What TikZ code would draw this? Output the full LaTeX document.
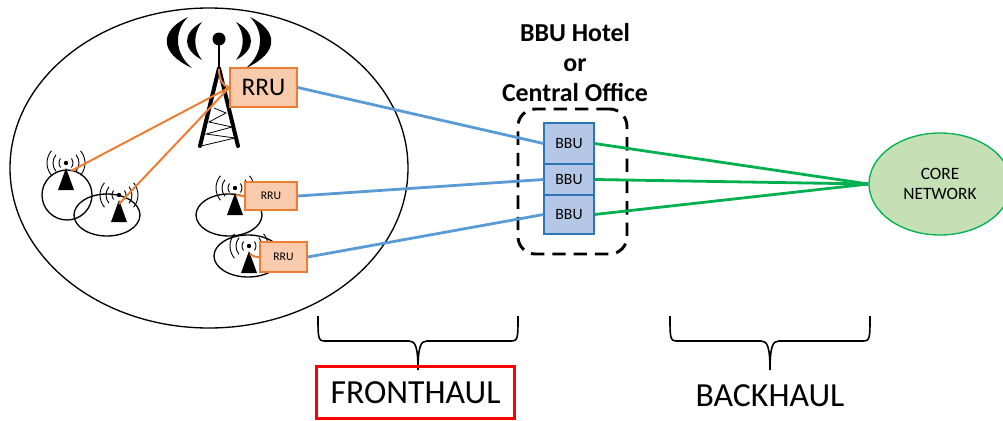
\documentclass[tikz,border=0pt]{standalone}
\usepackage{fontspec}
\setmainfont{Carlito}
\usetikzlibrary{shapes.geometric}
\definecolor{RruFill}{HTML}{F8CBAD}
\definecolor{RruClr}{HTML}{ED7D31}
\definecolor{BbuFill}{HTML}{B4C7E7}
\definecolor{BbuClr}{HTML}{2E75B6}
\definecolor{FrontClr}{HTML}{5B9BD5}
\definecolor{BackClr}{HTML}{00B050}
\definecolor{CoreFill}{HTML}{C5E0B4}
\tikzset{
  rrubox/.style={draw=RruClr,fill=RruFill,line width=1.1pt,inner sep=0pt},
  bbubox/.style={draw=BbuClr,fill=BbuFill,line width=.8pt,inner sep=0pt,minimum width=37.5pt,font=\fontsize{11.8}{14}\selectfont},
  cell/.style={draw=black,line width=1pt},
  feed/.style={draw=RruClr,line width=1.5pt},
  fronthaul/.style={draw=FrontClr,line width=2.1pt},
  backhaul/.style={draw=BackClr,line width=2.1pt},
  bigtower/.pic={
    \fill (0,0) circle (6.5);
    \draw[line width=1.9pt] (0,0) -- (0,29);
    \draw[line width=3pt,line cap=round,line join=round] (-19,107) -- (0,29) -- (19,107);
    \draw[line width=.6pt] (-5,69) -- (7,74) -- (-10,83) -- (13,88) -- (-13,95) -- (16,99) -- (-18,107);
    \foreach \s in {1,-1} {
      \fill[xscale=\s] (-31,-22) .. controls (-60,-8) and (-60,14) .. (-27,29) .. controls (-45,14) and (-45,-8) .. cycle;
      \fill[xscale=\s] (-17,-17) .. controls (-37,-6) and (-37,10) .. (-17,21) .. controls (-26,10) and (-26,-6) .. cycle;
    }
  },
  smalltower/.pic={
    \fill (0,0) circle (2.2);
    \fill (0,5) -- (8,27) -- (-8,27) -- cycle;
    \foreach \r in {7,13,19} {
      \draw[line width=.7pt] (140:\r) arc (140:220:\r);
      \draw[line width=.7pt] (40:\r) arc (40:-40:\r);
    }
  },
  bracket/.pic={
    \draw[line width=1.2pt] (-100,-54) .. controls (-100,-32) and (-100,-29) .. (-93,-29) -- (-9,-29)
      .. controls (-3,-29) and (0,-24) .. (0,0) .. controls (0,-24) and (3,-29) .. (9,-29) -- (93,-29)
      .. controls (100,-29) and (100,-32) .. (100,-54);
  }
}

\begin{document}
\begin{tikzpicture}[x=.75pt,y=-.75pt]
\useasboundingbox (0,0) rectangle (1003,421);

\draw[cell] (209,168) ellipse (199 and 160);

\draw[cell] (67,195) circle (25);
\draw[cell] (107,215) ellipse (33 and 21);
\draw[cell] (229,215) ellipse (33 and 21);
\draw[cell] (248,256) ellipse (34 and 21);

\pic at (219,39) {bigtower};
\pic at (66,163) {smalltower};
\pic at (119,195) {smalltower};
\pic at (235,188) {smalltower};
\pic at (249,246) {smalltower};

\coordinate (feedBig) at (219,69);
\coordinate (feedA) at (71,171);
\coordinate (feedB) at (119,204);
\coordinate (feedC) at (236,195);
\coordinate (feedD) at (250,254);

\node[rrubox,minimum width=50.25pt,minimum height=29.25pt,font=\fontsize{19}{23}\selectfont] (rruBig) at (263.5,87.5) {RRU};
\node[rrubox,minimum width=39pt,minimum height=21pt,font=\fontsize{8.8}{10}\selectfont] (rruC) at (271,196) {RRU};
\node[rrubox,minimum width=35.25pt,minimum height=22.5pt,font=\fontsize{8.8}{10}\selectfont] (rruD) at (283.5,257) {RRU};

\draw[feed] (rruBig.west) -- (feedA);
\draw[feed] (rruBig.west) -- (feedB);
\draw[feed] (feedBig) .. controls (219,80) and (223,86) .. (rruBig.west);
\draw[feed] (feedC) -- (rruC.west);
\draw[feed] (feedD) .. controls (254,257) and (256,257) .. (rruD.west);

\node[draw=black,line width=2.2pt,dash pattern=on 10pt off 6pt,rounded corners=13pt,minimum width=81.75pt,minimum height=108.75pt] (hotelBox) at (572.5,181.5) {};

\node[bbubox,minimum height=30.75pt] (bbuA) at (569,143.5) {BBU};
\node[bbubox,minimum height=23.25pt] (bbuB) at (569,179.5) {BBU};
\node[bbubox,minimum height=29.25pt] (bbuC) at (569,214.5) {BBU};

\node[draw=BackClr,fill=CoreFill,line width=1pt,ellipse,inner sep=0pt,minimum width=106.5pt,minimum height=76.5pt,align=center,font=\fontsize{13}{15.2}\selectfont] (coreNet) at (940,184) {CORE\\NETWORK};

\draw[fronthaul] (rruBig.east) -- (bbuA.west);
\draw[fronthaul] (rruC.east) -- (bbuB.west);
\draw[fronthaul] (rruD.east) -- (bbuC.west);
\draw[backhaul] (bbuA.east) -- (coreNet.west);
\draw[backhaul] (bbuB.east) -- (coreNet.west);
\draw[backhaul] (bbuC.east) -- (coreNet.west);

\node[align=center,font=\fontsize{19.4}{22.5}\selectfont\bfseries] (hotelLabel) at (575,63) {BBU Hotel\\or\\Central Office};

\pic at (418,370) {bracket};
\pic at (770,370) {bracket};

\node[draw=red,line width=2.3pt,minimum width=148.5pt,minimum height=39pt,inner sep=0pt,font=\fontsize{25.3}{30}\selectfont] (frontLabel) at (415.5,392.5) {FRONTHAUL};
\node[inner sep=0pt,font=\fontsize{25.3}{30}\selectfont] (backLabel) at (770,396) {BACKHAUL};

\end{tikzpicture}
\end{document}
